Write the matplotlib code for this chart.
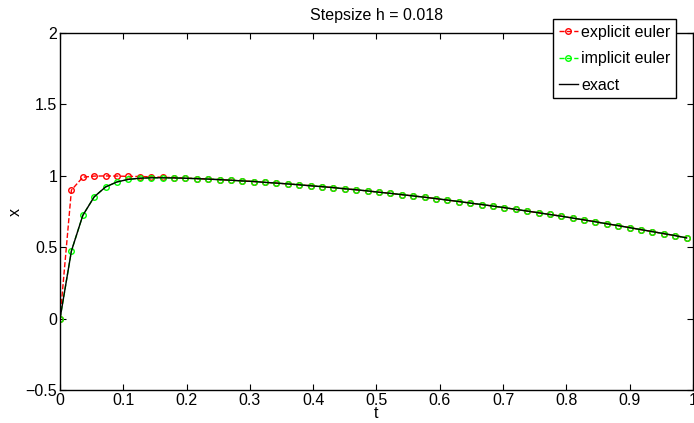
import matplotlib
matplotlib.use('Agg')
import matplotlib.pyplot as plt

plt.rcParams['font.family'] = ['Liberation Sans', 'DejaVu Sans']

# time grid, h = 0.018
t = [0.0, 0.018, 0.036, 0.054, 0.072, 0.09, 0.108, 0.126, 0.144, 0.162,
     0.18, 0.198, 0.216, 0.234, 0.252, 0.27, 0.288, 0.306, 0.324, 0.342,
     0.36, 0.378, 0.396, 0.414, 0.432, 0.45, 0.468, 0.486, 0.504, 0.522,
     0.54, 0.558, 0.576, 0.594, 0.612, 0.63, 0.648, 0.666, 0.684, 0.702,
     0.72, 0.738, 0.756, 0.774, 0.792, 0.81, 0.828, 0.846, 0.864, 0.882,
     0.9, 0.918, 0.936, 0.954, 0.972, 0.99]

explicit = [0.0, 0.900, 0.990, 0.998, 0.999, 0.998, 0.996, 0.995, 0.993, 0.990,
            0.987, 0.984, 0.981, 0.977, 0.973, 0.969, 0.964, 0.960, 0.954, 0.949,
            0.943, 0.937, 0.930, 0.924, 0.917, 0.909, 0.902, 0.894, 0.885, 0.877,
            0.868, 0.859, 0.850, 0.840, 0.830, 0.820, 0.809, 0.799, 0.788, 0.777,
            0.765, 0.753, 0.741, 0.729, 0.717, 0.704, 0.691, 0.678, 0.664, 0.651,
            0.637, 0.623, 0.609, 0.595, 0.581, 0.565]

implicit = [0.0, 0.474, 0.723, 0.853, 0.922, 0.957, 0.975, 0.983, 0.986, 0.986,
            0.985, 0.983, 0.980, 0.977, 0.973, 0.969, 0.964, 0.960, 0.954, 0.949,
            0.943, 0.937, 0.930, 0.924, 0.917, 0.909, 0.902, 0.894, 0.885, 0.877,
            0.868, 0.859, 0.850, 0.840, 0.830, 0.820, 0.809, 0.799, 0.788, 0.777,
            0.765, 0.753, 0.741, 0.729, 0.717, 0.704, 0.691, 0.678, 0.664, 0.651,
            0.637, 0.623, 0.609, 0.595, 0.581, 0.565]

exact = implicit

fs = 11.5

fig = plt.figure(figsize=(6.94, 4.23), dpi=100)
ax = fig.add_axes([0.0865, 0.078, 0.912, 0.844])

ax.plot(t, explicit, '--o', color=(1, 0, 0), lw=1, ms=4, mfc='none', mew=1,
        label='explicit euler')
ax.plot(t, implicit, '--o', color=(0, 1, 0), lw=1, ms=4, mfc='none', mew=1,
        label='implicit euler')
ax.plot(t, exact, '-', color='k', lw=1, label='exact')

ax.set_xlim(0, 1)
ax.set_ylim(-0.5, 2)
ax.set_xticks([0, 0.1, 0.2, 0.3, 0.4, 0.5, 0.6, 0.7, 0.8, 0.9, 1])
ax.set_xticklabels(['0', '0.1', '0.2', '0.3', '0.4', '0.5', '0.6', '0.7', '0.8', '0.9', '1'])
ax.set_yticks([-0.5, 0, 0.5, 1, 1.5, 2])
ax.set_yticklabels(['\u22120.5', '0', '0.5', '1', '1.5', '2'])
ax.tick_params(direction='in', top=True, right=True, labelsize=fs, length=4, pad=2)
for s in ax.spines.values():
    s.set_linewidth(1)

ax.set_xlabel('t', fontsize=fs, labelpad=-1)
ax.set_ylabel('x', fontsize=fs, labelpad=2)
ax.set_title('Stepsize h = 0.018', fontsize=fs, pad=9)

leg = ax.legend(loc='upper right', bbox_to_anchor=(0.973, 1.039), borderaxespad=0,
                fontsize=fs, fancybox=False, framealpha=1, edgecolor='k',
                handlelength=1.2, handletextpad=0.2, borderpad=0.35, labelspacing=0.72)
leg.get_frame().set_linewidth(1)

fig.savefig('out.png', dpi=100)
